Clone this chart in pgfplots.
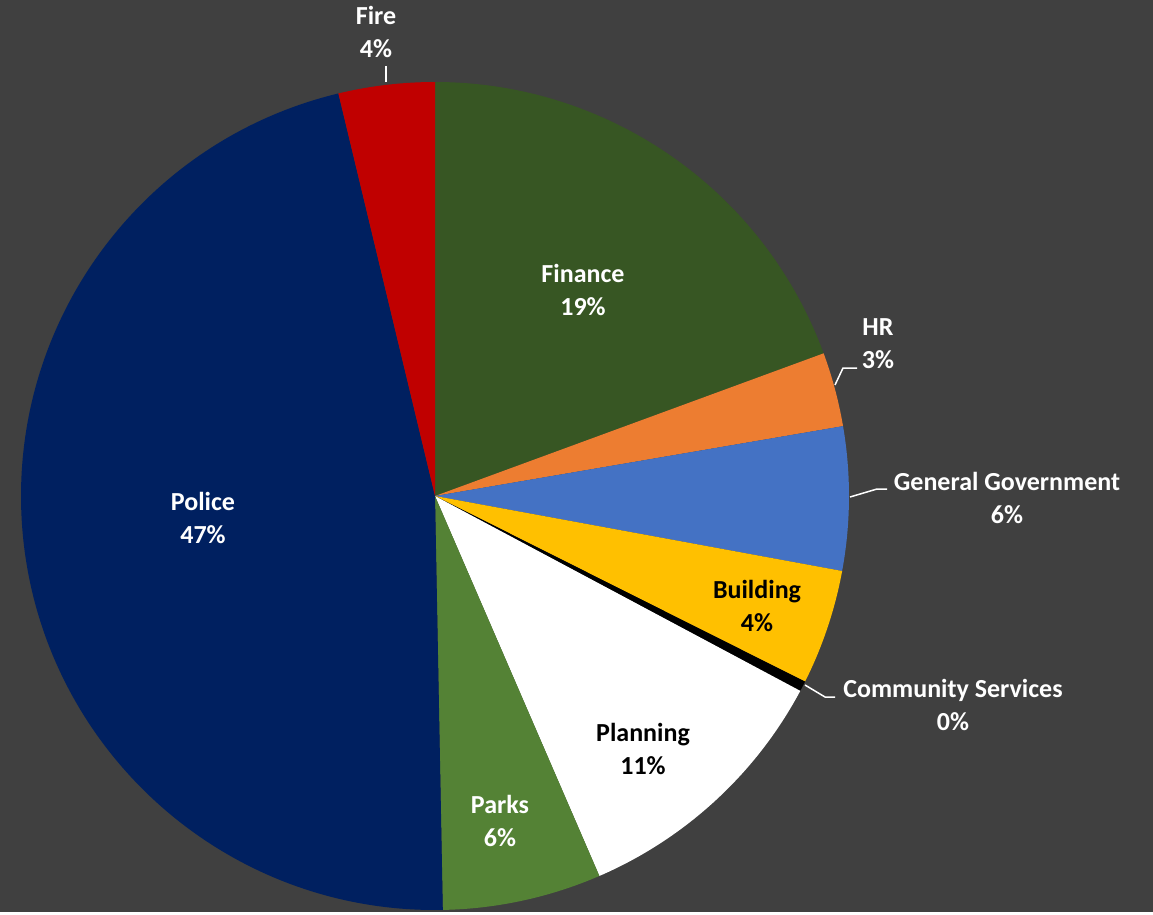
\documentclass[border=0pt]{standalone}
\usepackage{pgfplots}
\usepackage{pgfplotstable}
\usepackage{fontspec}
\setmainfont{Carlito}
\pgfplotsset{compat=1.18}

\definecolor{bgcol}{HTML}{404040}
\definecolor{cFin}{HTML}{375623}
\definecolor{cHR}{HTML}{ED7D31}
\definecolor{cGG}{HTML}{4472C4}
\definecolor{cBld}{HTML}{FFC000}
\definecolor{cCom}{HTML}{000000}
\definecolor{cPla}{HTML}{FFFFFF}
\definecolor{cPar}{HTML}{548235}
\definecolor{cPol}{HTML}{002060}
\definecolor{cFir}{HTML}{C00000}

% share of each department, clockwise from 12 o'clock
\pgfplotstableread{
name      value  color
Finance   19.4   cFin
HR        2.9    cHR
GenGov    5.6    cGG
Building  4.5    cBld
Community 0.4    cCom
Planning  10.7   cPla
Parks     6.2    cPar
Police    46.55  cPol
Fire      3.75   cFir
}\pietable

\begin{document}
\begin{tikzpicture}
\begin{axis}[
    scale only axis,
    width=1153pt, height=912pt,
    xmin=0, xmax=1153, ymin=0, ymax=912,
    y dir=reverse,
    enlargelimits=false,
    hide axis,
    clip=false,
  ]
  \pgfplotsextra{
    \fill[bgcol] (axis cs:0,0) rectangle (axis cs:1153,912);
    \pgfplotstablegetrowsof{\pietable}
    \pgfmathtruncatemacro\lastrow{\pgfplotsretval-1}
    \gdef\cum{0}
    \foreach \i in {0,...,\lastrow}{
      \pgfplotstablegetelem{\i}{value}\of\pietable \let\v\pgfplotsretval
      \pgfplotstablegetelem{\i}{color}\of\pietable \let\c\pgfplotsretval
      \pgfmathsetmacro\a{90-\cum*3.6}
      \pgfmathsetmacro\b{90-(\cum+\v)*3.6}
      \fill[fill=\c] (axis cs:435,496) -- ++(\a:414pt)
        arc[start angle=\a, end angle=\b, radius=414pt] -- cycle;
      \pgfmathsetmacro\newcum{\cum+\v}
      \xdef\cum{\newcum}
    }
    % leader lines
    \draw[white, line width=1.5pt] (axis cs:386,82) -- (axis cs:386,66);
    \draw[white, line width=1.5pt] (axis cs:835,385) -- (axis cs:843,368) -- (axis cs:857,368);
    \draw[white, line width=1.5pt] (axis cs:850,497) -- (axis cs:877,489) -- (axis cs:887,489);
    \draw[white, line width=1.5pt] (axis cs:805,685) -- (axis cs:825,697) -- (axis cs:835,697);
  }
  \begin{scope}[every node/.style={align=center, font=\fontsize{26}{33}\selectfont\bfseries, text=white}]
    \node at (axis cs:376,32) {Fire\\4\%};
    \node at (axis cs:583,290) {Finance\\19\%};
    \node at (axis cs:878,344) {HR\\3\%};
    \node at (axis cs:1007,498) {General Government\\6\%};
    \node[text=black] at (axis cs:757,606) {Building\\4\%};
    \node at (axis cs:953,705) {Community Services\\0\%};
    \node[text=black] at (axis cs:643,749) {Planning\\11\%};
    \node at (axis cs:500,821) {Parks\\6\%};
    \node at (axis cs:203,518) {Police\\47\%};
  \end{scope}
\end{axis}
\end{tikzpicture}
\end{document}
